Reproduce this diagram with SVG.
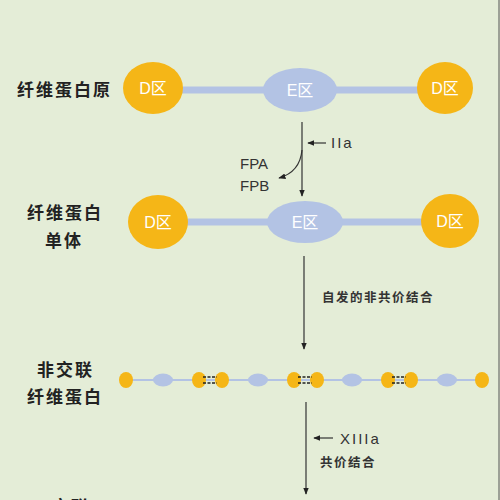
<svg xmlns="http://www.w3.org/2000/svg" width="500" height="500" viewBox="0 0 500 500">
<defs>
<style>
.lbl{font-family:"Noto Sans CJK SC","Liberation Sans",sans-serif;font-size:17px;fill:#222;font-weight:bold;letter-spacing:2px}
.sm{font-family:"Noto Sans CJK SC","Liberation Sans",sans-serif;font-size:12.5px;fill:#333;font-weight:bold;letter-spacing:1.5px}
.lat{font-family:"Liberation Sans","DejaVu Sans",sans-serif;font-size:15px;fill:#333}
.dtxt{font-family:"Liberation Sans","Noto Sans CJK SC",sans-serif;font-size:16px;fill:#fff;text-anchor:middle}
.D{fill:#f5b617}
.E{fill:#b3c3e4}
.rod{stroke:#b3c3e4;stroke-width:7}
.thin{stroke:#b3c3e4;stroke-width:2}
.ar{stroke:#333;stroke-width:1.2;fill:none}
.dash{stroke:#222;stroke-width:1.6;stroke-dasharray:3 1.5}
</style>
<marker id="ah" viewBox="0 0 10 10" refX="9" refY="5" markerWidth="6" markerHeight="6" orient="auto">
<path d="M0,1 L10,5 L0,9 z" fill="#222"/>
</marker>
</defs>
<rect width="500" height="500" fill="#e4edd7"/>
<line x1="499" y1="0" x2="499" y2="500" stroke="#555" stroke-width="1"/>

<g id="connectors">
<line class="ar" x1="302" y1="122" x2="302" y2="196" marker-end="url(#ah)"/>
<line class="ar" x1="326" y1="143" x2="308" y2="143" marker-end="url(#ah)"/>
<path class="ar" d="M302,150 Q300,172 279,178" marker-end="url(#ah)"/>
<line class="ar" x1="304" y1="256" x2="304" y2="349" marker-end="url(#ah)"/>
<line class="ar" x1="306" y1="402" x2="306" y2="494" marker-end="url(#ah)"/>
<line class="ar" x1="333" y1="438" x2="314" y2="438" marker-end="url(#ah)"/>
</g>

<g id="fibrinogen">
<text class="lbl" x="17" y="96">纤维蛋白原</text>
<line class="rod" x1="180" y1="90" x2="420" y2="90"/>
<ellipse class="D" cx="153" cy="88" rx="30" ry="26"/>
<ellipse class="E" cx="300" cy="90" rx="37" ry="22"/>
<ellipse class="D" cx="445" cy="88" rx="28" ry="26"/>
<text class="dtxt" x="153" y="94">D区</text>
<text class="dtxt" x="300" y="96">E区</text>
<text class="dtxt" x="445" y="94">D区</text>
</g>

<g id="step1-labels">
<text class="lat" x="331" y="148" letter-spacing="2">IIa</text>
<text class="lat" x="240" y="169">FPA</text>
<text class="lat" x="240" y="191">FPB</text>
</g>

<g id="monomer">
<text class="lbl" x="27" y="219">纤维蛋白</text>
<text class="lbl" x="45" y="247">单体</text>
<line class="rod" x1="185" y1="222" x2="425" y2="222"/>
<ellipse class="D" cx="158" cy="222" rx="30" ry="27"/>
<ellipse class="E" cx="305" cy="222" rx="38" ry="21"/>
<ellipse class="D" cx="450" cy="221" rx="29" ry="27"/>
<text class="dtxt" x="158" y="228">D区</text>
<text class="dtxt" x="305" y="228">E区</text>
<text class="dtxt" x="450" y="227">D区</text>
</g>

<g id="step2-label">
<text class="sm" x="322" y="302">自发的非共价结合</text>
</g>

<g id="noncrosslinked">
<text class="lbl" x="37" y="376">非交联</text>
<text class="lbl" x="27" y="403">纤维蛋白</text>
<line class="thin" x1="125" y1="380" x2="482" y2="380"/>
<ellipse class="D" cx="126" cy="380" rx="7" ry="8"/>
<ellipse class="E" cx="163" cy="380" rx="10" ry="6.5"/>
<ellipse class="D" cx="199" cy="380" rx="7" ry="8"/>
<ellipse class="D" cx="222" cy="380" rx="7" ry="8"/>
<ellipse class="E" cx="258" cy="380" rx="10" ry="6.5"/>
<ellipse class="D" cx="294" cy="380" rx="7" ry="8"/>
<ellipse class="D" cx="317" cy="380" rx="7" ry="8"/>
<ellipse class="E" cx="352" cy="380" rx="10" ry="6.5"/>
<ellipse class="D" cx="388" cy="380" rx="7" ry="8"/>
<ellipse class="D" cx="411" cy="380" rx="7" ry="8"/>
<ellipse class="E" cx="447" cy="380" rx="10" ry="6.5"/>
<ellipse class="D" cx="482" cy="380" rx="7" ry="8"/>
<line class="dash" x1="203" y1="377" x2="217" y2="377"/>
<line class="dash" x1="203" y1="383" x2="217" y2="383"/>
<line class="dash" x1="298" y1="377" x2="312" y2="377"/>
<line class="dash" x1="298" y1="383" x2="312" y2="383"/>
<line class="dash" x1="392" y1="377" x2="406" y2="377"/>
<line class="dash" x1="392" y1="383" x2="406" y2="383"/>
</g>

<g id="step3-labels">
<text class="lat" x="340" y="444" letter-spacing="2">XIIIa</text>
<text class="sm" x="320" y="467">共价结合</text>
</g>

<g id="crosslinked">
<text class="lbl" x="52" y="513">交联</text>
</g>
</svg>
